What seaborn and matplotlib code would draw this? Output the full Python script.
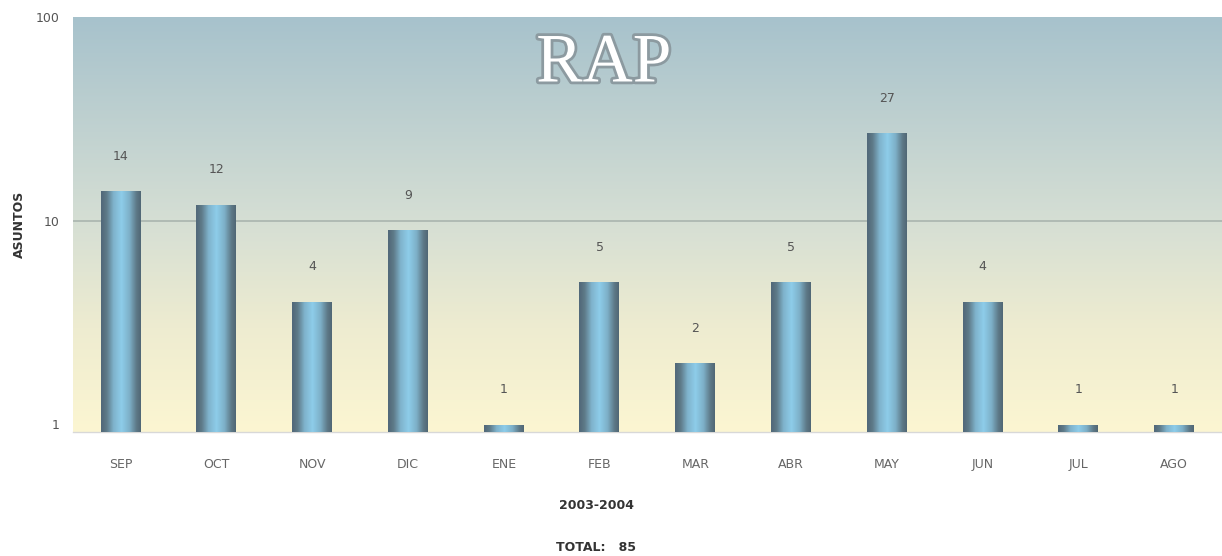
import numpy as np
import matplotlib
matplotlib.use("Agg")
import matplotlib.pyplot as plt
import matplotlib.patheffects as pe
from matplotlib.colors import LinearSegmentedColormap
import seaborn as sns

# Monthly case counts, Sept 2003 - Aug 2004
months = ["SEP", "OCT", "NOV", "DIC", "ENE", "FEB", "MAR", "ABR", "MAY", "JUN", "JUL", "AGO"]
asuntos = [14, 12, 4, 9, 1, 5, 2, 5, 27, 4, 1, 1]
y_ticks = [1, 10, 100]
y_tick_labels = ["1", "10", "100"]
total = sum(asuntos)

sns.set_theme(style="white")
plt.rcParams["font.family"] = ["DejaVu Sans"]

fig = plt.figure(figsize=(12.22, 5.56), dpi=100)
ax = fig.add_axes([0.0597, 0.223, 0.9403, 0.7464])

sns.barplot(x=months, y=asuntos, ax=ax, width=0.42, color="#7fb8d4",
            edgecolor="none", log_scale=(False, True), zorder=2)

ymin, ymax = 0.915, 100
ax.set_ylim(ymin, ymax)
ax.set_xlim(-0.5, len(months) - 0.5)

# Background: blue-grey at top fading to pale yellow at the bottom
bg_cmap = LinearSegmentedColormap.from_list(
    "bg", [(0.0, "#fcf6d2"), (0.25, "#eeecd0"), (0.5, "#d6dfd4"), (1.0, "#a7c2cc")])
grad = np.linspace(0, 1, 256).reshape(-1, 1)
ax.imshow(grad, cmap=bg_cmap, origin="lower", aspect="auto",
          extent=[0, 1, 0, 1], transform=ax.transAxes, zorder=0)

# Cylinder-like shading for each bar
bar_cmap = LinearSegmentedColormap.from_list(
    "bar", [(0.0, "#52697a"), (0.12, "#5e7a88"), (0.3, "#7fb3cc"),
            (0.5, "#8ecdea"), (0.7, "#7db0c8"), (0.88, "#5d7886"), (1.0, "#4f6573")])
shade = np.linspace(0, 1, 64).reshape(1, -1)
for patch, val in zip(ax.patches, asuntos):
    x0 = patch.get_x()
    w = patch.get_width()
    patch.set_visible(False)
    ax.imshow(shade, cmap=bar_cmap, aspect="auto", interpolation="bilinear",
              extent=[x0, x0 + w, ymin, val], zorder=3)
    ax.annotate(str(val), (x0 + w / 2, val), xytext=(0, 25), textcoords="offset points",
                ha="center", va="center", fontsize=9, color="#555555", zorder=4)
ax.set_xlim(-0.5, len(months) - 0.5)
ax.set_ylim(ymin, ymax)

# Gridline at 10
ax.axhline(10, color="#a9b4ae", lw=1.2, zorder=1)

ax.set_yticks(y_ticks)
ax.set_yticklabels(y_tick_labels)
ax.yaxis.set_minor_locator(matplotlib.ticker.NullLocator())
ax.tick_params(axis="y", length=4, color="#cccccc", labelsize=9, labelcolor="#555555", pad=6)
ax.tick_params(axis="x", length=0, labelsize=9, labelcolor="#666666", pad=19)

for s in ["top", "right", "left"]:
    ax.spines[s].set_visible(False)
ax.spines["bottom"].set_color("#d8d8d8")
ax.spines["bottom"].set_linewidth(1)

ax.set_ylabel("ASUNTOS", fontsize=9, fontweight="bold", color="#333333", labelpad=7)
ax.set_xlabel("2003-2004", fontsize=9, fontweight="bold", color="#333333", labelpad=20)
ax.xaxis.label.set_x(0.456)

fig.text(0.488, 0.003, f"TOTAL:   {total}", ha="center", va="bottom",
         fontsize=9, fontweight="bold", color="#333333")

# Outlined title inside the plot area
ax.text(0.462, 0.885, "RAP", transform=ax.transAxes, ha="center", va="center",
        fontsize=50, family=["Liberation Serif", "DejaVu Serif"], color="white",
        path_effects=[pe.withStroke(linewidth=4, foreground="#8c9aa0")], zorder=5)

fig.savefig("out.png", dpi=100)
